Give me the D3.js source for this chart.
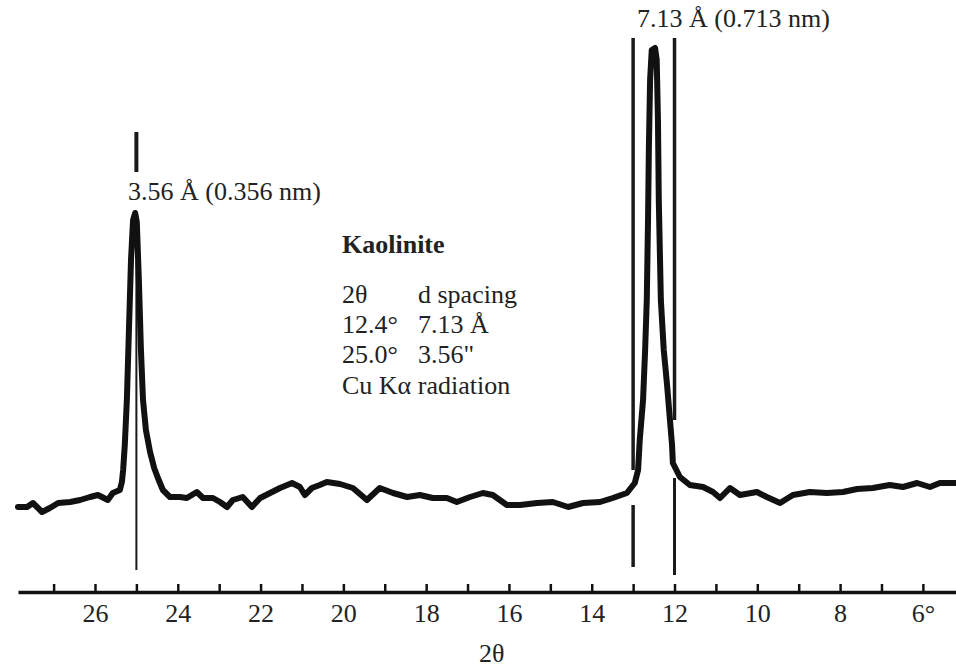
<!DOCTYPE html>
<html>
<head>
<meta charset="utf-8">
<script src="https://cdn.jsdelivr.net/npm/d3@7"></script>
<style>
  html, body { margin: 0; padding: 0; background: #fff; }
</style>
</head>
<body>
<svg id="chart"></svg>
<script>
// 2θ (degrees) and counts
const twoTheta = [27.86, 27.64, 27.50, 27.28, 27.09, 26.89, 26.60, 26.36, 26.12, 25.93,
  25.69, 25.57, 25.40, 25.35, 25.32, 25.28, 25.23, 25.18, 25.13, 25.08,
  25.03, 24.99, 24.94, 24.89, 24.84, 24.77, 24.67, 24.57, 24.48, 24.36,
  24.19, 23.95, 23.78, 23.54, 23.39, 23.15, 22.98, 22.81, 22.67, 22.43,
  22.21, 22.01, 21.77, 21.53, 21.24, 21.05, 20.93, 20.76, 20.57, 20.40,
  20.08, 19.77, 19.43, 19.12, 18.80, 18.46, 18.15, 17.84, 17.50, 17.26,
  16.94, 16.63, 16.39, 16.05, 15.73, 15.32, 14.94, 14.57, 14.21, 13.80,
  13.49, 13.15, 12.96, 12.88, 12.84, 12.76, 12.71, 12.67, 12.64, 12.62,
  12.59, 12.55, 12.47, 12.43, 12.40, 12.38, 12.35, 12.33, 12.26, 12.18,
  12.11, 12.06, 12.04, 11.87, 11.63, 11.31, 11.07, 10.90, 10.66, 10.42,
  10.01, 9.77, 9.45, 9.14, 8.73, 8.32, 7.93, 7.59, 7.21, 6.80,
  6.48, 6.14, 5.83, 5.59, 5.20];
const counts = [53, 53, 57, 48, 52, 57, 58, 60, 63, 65,
  60, 67, 70, 78, 90, 115, 160, 230, 300, 340,
  347, 338, 280, 210, 160, 130, 108, 92, 82, 70,
  63, 63, 62, 68, 62, 62, 58, 53, 60, 63,
  53, 62, 67, 72, 77, 73, 65, 72, 75, 78,
  76, 72, 60, 72, 67, 63, 65, 62, 62, 58,
  63, 67, 65, 55, 55, 57, 58, 53, 57, 58,
  62, 67, 77, 90, 120, 160, 210, 260, 340, 410,
  480, 510, 512, 500, 440, 360, 300, 260, 210, 175,
  140, 115, 97, 83, 75, 73, 68, 62, 72, 65,
  68, 63, 57, 65, 68, 67, 68, 71, 72, 75,
  73, 77, 73, 77, 77];

const tickValues = d3.range(6, 28);
const labelledTicks = [26, 24, 22, 20, 18, 16, 14, 12, 10, 8, 6];

const peakLabels = ["3.56 Å (0.356 nm)", "7.13 Å (0.713 nm)"];
const legendTitle = "Kaolinite";
const legendRows = [["2θ", "d spacing"], ["12.4°", "7.13 Å"], ["25.0°", "3.56\""]];
const legendNote = "Cu Kα radiation";
const markerPositions = [25.0, 13.0, 12.0];

const FONT = '"Liberation Serif", "Times New Roman", serif';
const width = 956, height = 667;
const svg = d3.select('#chart').attr('width', width).attr('height', height);

const x = d3.scaleLinear().domain([27.86, 5.2]).range([18, 956]);
const y = d3.scaleLinear().domain([0, 520]).range([560, 40]);

// marker lines (broken where the label / trace cross them)
const markers = svg.append('g').attr('stroke', '#1a1a1a');
const m25 = x(markerPositions[0]), m13 = x(markerPositions[1]), m12 = x(markerPositions[2]);
[[m25, 132, 172, 4], [m25, 212, 570, 2],
 [m13, 38, 470, 3.5], [m13, 505, 567, 3.5],
 [m12, 38, 420, 3.5], [m12, 478, 575, 3]].forEach(([mx, y0, y1, w]) => {
  markers.append('line')
    .attr('x1', mx).attr('x2', mx).attr('y1', y0).attr('y2', y1)
    .attr('stroke-width', w);
});

// diffraction trace
const points = twoTheta.map((t, i) => [t, counts[i]]);
svg.append('path')
  .datum(points)
  .attr('fill', 'none')
  .attr('stroke', '#111')
  .attr('stroke-width', 6)
  .attr('stroke-linejoin', 'round')
  .attr('stroke-linecap', 'round')
  .attr('d', d3.line().x(d => x(d[0])).y(d => y(d[1])));

// 2θ axis, ticks pointing up
const axis = svg.append('g')
  .attr('transform', 'translate(0,592)')
  .call(d3.axisBottom(x)
    .tickValues(tickValues)
    .tickSizeInner(-8)
    .tickSizeOuter(0)
    .tickPadding(12)
    .tickFormat(d => labelledTicks.includes(d) ? (d === 6 ? '6°' : d) : ''));
axis.attr('font-family', null).attr('font-size', null);
axis.select('.domain').attr('stroke', '#111').attr('stroke-width', 3.5);
axis.selectAll('.tick line').attr('stroke', '#111').attr('stroke-width', 2.5);
axis.selectAll('.tick text')
  .style('font-family', FONT)
  .style('font-size', '26px')
  .attr('fill', '#222');

const label = (tx, ty, s, bold) => svg.append('text')
  .attr('x', tx).attr('y', ty)
  .style('font-family', FONT)
  .style('font-size', '26px')
  .style('font-weight', bold ? 'bold' : 'normal')
  .attr('fill', '#222')
  .text(s);

label(479, 662, '2θ');

// peak labels
label(128, 200, peakLabels[0]);
label(637, 27, peakLabels[1]);

// legend block
label(342, 253, legendTitle, true);
legendRows.forEach((r, i) => {
  label(342, 303 + i * 30, r[0]);
  label(418, 303 + i * 30, r[1]);
});
label(342, 394, legendNote);
</script>
</body>
</html>
